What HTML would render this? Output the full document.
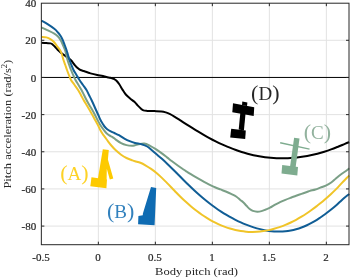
<!DOCTYPE html>
<html><head><meta charset="utf-8"><style>
html,body{margin:0;padding:0;background:#fff;}
body{width:350px;height:279px;overflow:hidden;font-family:"Liberation Serif", serif;}
svg{display:block;}
</style></head><body>
<svg xmlns="http://www.w3.org/2000/svg" width="350" height="279" viewBox="0 0 350 279">
<rect width="350" height="279" fill="#fff"/>
<g stroke="#e2e2e2" stroke-width="1"><line x1="98.35" y1="3.2" x2="98.35" y2="244.7" /><line x1="155.35" y1="3.2" x2="155.35" y2="244.7" /><line x1="212.35" y1="3.2" x2="212.35" y2="244.7" /><line x1="269.35" y1="3.2" x2="269.35" y2="244.7" /><line x1="326.35" y1="3.2" x2="326.35" y2="244.7" /><line x1="41.35" y1="40.29" x2="349.0" y2="40.29" /><line x1="41.35" y1="114.61" x2="349.0" y2="114.61" /><line x1="41.35" y1="151.77" x2="349.0" y2="151.77" /><line x1="41.35" y1="188.93" x2="349.0" y2="188.93" /><line x1="41.35" y1="226.09" x2="349.0" y2="226.09" /></g>
<line x1="41.35" y1="77.45" x2="349.0" y2="77.45" stroke="#000" stroke-width="1"/>
<g fill="none" stroke-width="2" stroke-linejoin="round" stroke-linecap="butt">
<path d="M41.40,42.80 C42.23,42.85 44.85,43.00 46.40,43.10 C47.95,43.20 49.63,43.13 50.70,43.40 C51.77,43.67 52.08,44.13 52.80,44.70 C53.52,45.27 54.20,45.95 55.00,46.80 C55.80,47.65 56.53,48.75 57.60,49.80 C58.67,50.85 60.25,52.18 61.40,53.10 C62.55,54.02 63.48,54.57 64.50,55.30 C65.52,56.03 66.42,56.67 67.50,57.50 C68.58,58.33 69.75,59.00 71.00,60.30 C72.25,61.60 73.78,63.92 75.00,65.30 C76.22,66.68 77.38,67.82 78.30,68.60 C79.22,69.38 79.60,69.60 80.50,70.00 C81.40,70.40 82.78,70.70 83.70,71.00 C84.62,71.30 85.05,71.47 86.00,71.80 C86.95,72.13 88.48,72.70 89.40,73.00 C90.32,73.30 90.20,73.28 91.50,73.60 C92.80,73.92 95.30,74.48 97.20,74.90 C99.10,75.32 100.98,75.67 102.90,76.10 C104.82,76.53 107.18,77.13 108.70,77.50 C110.22,77.87 111.05,78.02 112.00,78.30 C112.95,78.58 113.65,78.80 114.40,79.20 C115.15,79.60 115.68,79.85 116.50,80.70 C117.32,81.55 118.30,82.82 119.30,84.30 C120.30,85.78 121.42,87.90 122.50,89.60 C123.58,91.30 124.53,93.02 125.80,94.50 C127.07,95.98 128.67,97.28 130.10,98.50 C131.53,99.72 133.15,100.65 134.40,101.80 C135.65,102.95 136.53,104.28 137.60,105.40 C138.67,106.52 139.82,107.67 140.80,108.50 C141.78,109.33 142.43,110.00 143.50,110.40 C144.57,110.80 145.40,110.78 147.20,110.90 C149.00,111.02 151.92,111.02 154.30,111.10 C156.68,111.18 159.58,111.18 161.50,111.40 C163.42,111.62 164.37,111.94 165.80,112.40 C167.23,112.86 168.67,113.47 170.10,114.17 C171.53,114.88 172.68,115.59 174.40,116.63 C176.12,117.67 178.38,119.13 180.40,120.42 C182.42,121.71 184.53,123.12 186.50,124.38 C188.47,125.64 190.30,126.78 192.20,127.96 C194.10,129.14 195.98,130.31 197.90,131.47 C199.82,132.63 201.78,133.81 203.70,134.91 C205.62,136.01 207.40,137.01 209.40,138.09 C211.40,139.17 213.68,140.35 215.70,141.36 C217.72,142.37 219.58,143.26 221.50,144.14 C223.42,145.02 225.30,145.85 227.20,146.65 C229.10,147.45 230.98,148.19 232.90,148.92 C234.82,149.64 236.78,150.35 238.70,151.00 C240.62,151.65 242.43,152.23 244.40,152.80 C246.37,153.37 248.50,153.95 250.50,154.44 C252.50,154.93 254.47,155.37 256.40,155.76 C258.33,156.15 260.18,156.47 262.10,156.77 C264.02,157.07 265.98,157.33 267.90,157.54 C269.82,157.75 271.70,157.91 273.60,158.04 C275.50,158.16 277.40,158.25 279.30,158.29 C281.20,158.33 283.10,158.34 285.00,158.30 C286.90,158.26 288.72,158.19 290.70,158.06 C292.68,157.93 294.73,157.77 296.90,157.52 C299.07,157.28 301.42,156.96 303.70,156.59 C305.98,156.22 308.32,155.79 310.60,155.31 C312.88,154.83 315.12,154.30 317.40,153.70 C319.68,153.10 322.02,152.43 324.30,151.72 C326.58,151.01 328.82,150.26 331.10,149.43 C333.38,148.60 335.70,147.66 338.00,146.74 C340.30,145.82 343.03,144.66 344.90,143.90 C346.77,143.14 348.48,142.48 349.20,142.20" stroke="#000"/>
<path d="M41.40,27.40 C42.37,27.85 45.05,29.07 47.20,30.10 C49.35,31.13 52.50,32.53 54.30,33.60 C56.10,34.67 56.97,35.43 58.00,36.50 C59.03,37.57 59.75,38.75 60.50,40.00 C61.25,41.25 61.75,42.33 62.50,44.00 C63.25,45.67 64.37,48.17 65.00,50.00 C65.63,51.83 65.88,53.33 66.30,55.00 C66.72,56.67 67.02,58.33 67.50,60.00 C67.98,61.67 68.62,63.33 69.20,65.00 C69.78,66.67 70.33,68.33 71.00,70.00 C71.67,71.67 72.45,73.33 73.20,75.00 C73.95,76.67 74.62,78.33 75.50,80.00 C76.38,81.67 77.50,83.33 78.50,85.00 C79.50,86.67 80.58,88.33 81.50,90.00 C82.42,91.67 83.17,93.33 84.00,95.00 C84.83,96.67 85.62,98.33 86.50,100.00 C87.38,101.67 88.33,103.33 89.30,105.00 C90.27,106.67 91.35,108.33 92.30,110.00 C93.25,111.67 94.13,113.33 95.00,115.00 C95.87,116.67 96.62,118.33 97.50,120.00 C98.38,121.67 99.25,123.33 100.30,125.00 C101.35,126.67 102.77,128.62 103.80,130.00 C104.83,131.38 105.58,132.40 106.50,133.30 C107.42,134.20 108.23,134.73 109.30,135.40 C110.37,136.07 111.82,136.60 112.90,137.30 C113.98,138.00 114.43,138.63 115.80,139.60 C117.17,140.57 119.32,142.18 121.10,143.10 C122.88,144.02 124.70,144.65 126.50,145.10 C128.30,145.55 130.48,145.77 131.90,145.80 C133.32,145.83 133.88,145.55 135.00,145.30 C136.12,145.05 137.05,144.58 138.60,144.30 C140.15,144.02 142.38,143.34 144.30,143.60 C146.22,143.86 148.18,144.94 150.10,145.87 C152.02,146.80 153.90,147.96 155.80,149.17 C157.70,150.38 159.58,151.72 161.50,153.13 C163.42,154.54 165.60,156.30 167.30,157.62 C169.00,158.94 169.90,159.70 171.70,161.06 C173.50,162.42 176.13,164.37 178.10,165.78 C180.07,167.19 182.02,168.50 183.50,169.50 C184.98,170.50 185.85,171.04 187.00,171.78 C188.15,172.52 188.93,173.03 190.40,173.93 C191.87,174.83 194.02,176.13 195.80,177.18 C197.58,178.23 199.32,179.23 201.10,180.23 C202.88,181.23 204.70,182.24 206.50,183.18 C208.30,184.12 210.48,185.21 211.90,185.89 C213.32,186.57 213.58,186.69 215.00,187.28 C216.42,187.87 218.60,188.72 220.40,189.43 C222.20,190.14 224.02,190.79 225.80,191.54 C227.58,192.28 229.32,193.04 231.10,193.90 C232.88,194.76 234.97,195.69 236.50,196.71 C238.03,197.73 239.18,199.09 240.30,200.00 C241.42,200.91 242.17,201.23 243.20,202.20 C244.23,203.17 245.42,204.67 246.50,205.80 C247.58,206.93 248.63,208.15 249.70,209.00 C250.77,209.85 251.65,210.45 252.90,210.90 C254.15,211.35 255.77,211.67 257.20,211.70 C258.63,211.73 260.07,211.47 261.50,211.10 C262.93,210.73 264.38,210.07 265.80,209.50 C267.22,208.93 268.35,208.57 270.00,207.70 C271.65,206.83 274.03,205.22 275.70,204.30 C277.37,203.38 278.38,202.95 280.00,202.20 C281.62,201.45 283.60,200.55 285.40,199.80 C287.20,199.05 289.02,198.37 290.80,197.70 C292.58,197.03 294.32,196.43 296.10,195.80 C297.88,195.17 299.70,194.53 301.50,193.90 C303.30,193.27 305.48,192.50 306.90,192.00 C308.32,191.50 308.58,191.32 310.00,190.90 C311.42,190.48 313.67,190.05 315.40,189.50 C317.13,188.95 318.67,188.25 320.40,187.60 C322.13,186.95 324.00,186.45 325.80,185.60 C327.60,184.75 329.52,183.68 331.20,182.50 C332.88,181.32 334.30,179.83 335.90,178.50 C337.50,177.17 338.97,175.87 340.80,174.50 C342.63,173.13 345.50,171.33 346.90,170.30 C348.30,169.27 348.82,168.63 349.20,168.30" stroke="#7a9f86"/>
<path d="M41.40,20.70 C42.37,21.23 45.05,22.55 47.20,23.90 C49.35,25.25 52.50,27.37 54.30,28.80 C56.10,30.23 56.97,31.33 58.00,32.50 C59.03,33.67 59.75,34.63 60.50,35.80 C61.25,36.97 61.83,38.05 62.50,39.50 C63.17,40.95 63.83,42.75 64.50,44.50 C65.17,46.25 65.92,48.25 66.50,50.00 C67.08,51.75 67.50,53.33 68.00,55.00 C68.50,56.67 68.93,58.33 69.50,60.00 C70.07,61.67 70.73,63.33 71.40,65.00 C72.07,66.67 72.65,68.33 73.50,70.00 C74.35,71.67 75.50,73.33 76.50,75.00 C77.50,76.67 78.42,78.33 79.50,80.00 C80.58,81.67 81.83,83.33 83.00,85.00 C84.17,86.67 85.50,88.33 86.50,90.00 C87.50,91.67 88.17,93.33 89.00,95.00 C89.83,96.67 90.70,98.33 91.50,100.00 C92.30,101.67 93.05,103.33 93.80,105.00 C94.55,106.67 95.25,108.33 96.00,110.00 C96.75,111.67 97.55,113.33 98.30,115.00 C99.05,116.67 99.80,118.58 100.50,120.00 C101.20,121.42 101.83,122.42 102.50,123.50 C103.17,124.58 103.72,125.55 104.50,126.50 C105.28,127.45 106.15,128.38 107.20,129.20 C108.25,130.02 109.62,130.77 110.80,131.40 C111.98,132.03 112.93,132.37 114.30,133.00 C115.67,133.63 117.32,134.27 119.00,135.20 C120.68,136.13 122.62,137.60 124.40,138.60 C126.18,139.60 127.93,140.47 129.70,141.20 C131.47,141.93 133.03,142.48 135.00,143.00 C136.97,143.52 139.47,143.72 141.50,144.30 C143.53,144.88 145.42,145.45 147.20,146.50 C148.98,147.55 150.65,149.30 152.20,150.59 C153.75,151.88 154.88,152.89 156.50,154.27 C158.12,155.65 160.08,157.26 161.90,158.87 C163.72,160.48 165.58,162.23 167.40,163.95 C169.22,165.67 171.02,167.44 172.80,169.20 C174.58,170.96 176.32,172.71 178.10,174.50 C179.88,176.29 181.70,178.13 183.50,179.93 C185.30,181.73 187.08,183.50 188.90,185.27 C190.72,187.04 192.60,188.85 194.40,190.52 C196.20,192.19 198.03,193.82 199.70,195.28 C201.37,196.74 202.73,197.89 204.40,199.26 C206.07,200.62 207.80,202.02 209.70,203.47 C211.60,204.92 213.90,206.62 215.80,207.96 C217.70,209.31 219.32,210.38 221.10,211.54 C222.88,212.70 224.70,213.83 226.50,214.90 C228.30,215.97 230.42,217.15 231.90,217.96 C233.38,218.78 233.92,219.06 235.40,219.79 C236.88,220.52 239.02,221.56 240.80,222.37 C242.58,223.18 244.32,223.92 246.10,224.63 C247.88,225.34 249.70,226.02 251.50,226.64 C253.30,227.26 254.92,227.80 256.90,228.35 C258.88,228.90 261.42,229.53 263.40,229.96 C265.38,230.39 267.02,230.65 268.80,230.90 C270.58,231.15 272.32,231.33 274.10,231.45 C275.88,231.57 277.62,231.64 279.50,231.61 C281.38,231.58 283.52,231.47 285.40,231.29 C287.28,231.11 289.02,230.84 290.80,230.51 C292.58,230.18 294.32,229.78 296.10,229.29 C297.88,228.79 299.70,228.21 301.50,227.54 C303.30,226.87 305.23,226.04 306.90,225.27 C308.57,224.50 309.83,223.85 311.50,222.94 C313.17,222.03 315.48,220.65 316.90,219.79 C318.32,218.93 318.65,218.70 320.00,217.78 C321.35,216.86 323.20,215.60 325.00,214.27 C326.80,212.94 328.97,211.27 330.80,209.80 C332.63,208.33 334.47,206.80 336.00,205.46 C337.53,204.12 338.83,202.84 340.00,201.77 C341.17,200.70 341.47,200.35 343.00,199.05 C344.53,197.75 348.17,194.84 349.20,194.00" stroke="#105d95"/>
<path d="M41.40,36.80 C42.23,36.90 44.85,36.98 46.40,37.40 C47.95,37.82 49.45,38.53 50.70,39.30 C51.95,40.07 52.83,40.83 53.90,42.00 C54.97,43.17 56.08,44.97 57.10,46.30 C58.12,47.63 59.22,48.72 60.00,50.00 C60.78,51.28 61.22,52.33 61.80,54.00 C62.38,55.67 62.92,58.17 63.50,60.00 C64.08,61.83 64.72,63.33 65.30,65.00 C65.88,66.67 66.40,68.33 67.00,70.00 C67.60,71.67 68.23,73.33 68.90,75.00 C69.57,76.67 70.05,78.33 71.00,80.00 C71.95,81.67 73.40,83.33 74.58,85.00 C75.76,86.67 77.05,88.33 78.10,90.00 C79.15,91.67 79.98,93.33 80.90,95.00 C81.82,96.67 82.65,98.33 83.60,100.00 C84.55,101.67 85.60,103.33 86.60,105.00 C87.60,106.67 88.63,108.33 89.60,110.00 C90.57,111.67 91.48,113.33 92.40,115.00 C93.32,116.67 94.18,118.33 95.10,120.00 C96.02,121.67 97.03,123.33 97.90,125.00 C98.77,126.67 99.51,128.50 100.30,130.00 C101.09,131.50 101.88,132.80 102.66,134.00 C103.44,135.20 104.08,135.93 105.00,137.20 C105.92,138.47 107.12,140.19 108.20,141.62 C109.28,143.05 110.23,144.30 111.50,145.75 C112.77,147.20 114.20,148.81 115.80,150.30 C117.40,151.79 119.32,153.42 121.10,154.70 C122.88,155.98 124.70,157.08 126.50,158.00 C128.30,158.92 130.48,159.65 131.90,160.20 C133.32,160.75 133.58,160.87 135.00,161.30 C136.42,161.73 138.60,162.09 140.40,162.80 C142.20,163.51 144.02,164.53 145.80,165.55 C147.58,166.57 149.32,167.67 151.10,168.92 C152.88,170.17 154.70,171.54 156.50,173.03 C158.30,174.52 160.08,176.15 161.90,177.87 C163.72,179.59 165.58,181.49 167.40,183.33 C169.22,185.17 171.53,187.62 172.80,188.93 C174.07,190.25 173.73,189.92 175.00,191.22 C176.27,192.52 178.60,194.94 180.40,196.71 C182.20,198.48 184.02,200.20 185.80,201.83 C187.58,203.46 189.32,204.98 191.10,206.47 C192.88,207.96 194.70,209.42 196.50,210.79 C198.30,212.16 200.32,213.60 201.90,214.70 C203.48,215.80 204.58,216.51 206.00,217.40 C207.42,218.29 208.77,219.12 210.40,220.04 C212.03,220.96 214.02,222.03 215.80,222.92 C217.58,223.80 219.57,224.69 221.10,225.35 C222.63,226.01 223.52,226.36 225.00,226.90 C226.48,227.44 228.27,228.06 230.00,228.57 C231.73,229.08 233.60,229.58 235.40,229.99 C237.20,230.40 239.02,230.74 240.80,231.01 C242.58,231.28 244.32,231.48 246.10,231.63 C247.88,231.78 249.70,231.86 251.50,231.88 C253.30,231.90 254.92,231.88 256.90,231.75 C258.88,231.62 261.42,231.36 263.40,231.09 C265.38,230.82 267.02,230.50 268.80,230.12 C270.58,229.74 272.32,229.32 274.10,228.82 C275.88,228.32 277.62,227.79 279.50,227.14 C281.38,226.49 283.52,225.68 285.40,224.90 C287.28,224.12 289.02,223.33 290.80,222.48 C292.58,221.62 294.32,220.74 296.10,219.77 C297.88,218.80 299.70,217.76 301.50,216.67 C303.30,215.58 305.23,214.33 306.90,213.23 C308.57,212.13 309.83,211.25 311.50,210.05 C313.17,208.85 315.48,207.09 316.90,206.01 C318.32,204.92 318.77,204.55 320.00,203.54 C321.23,202.53 322.50,201.51 324.30,199.95 C326.10,198.38 328.83,195.96 330.80,194.15 C332.77,192.34 334.32,190.89 336.10,189.09 C337.88,187.29 339.70,185.22 341.50,183.34 C343.30,181.46 345.62,179.11 346.90,177.80 C348.18,176.49 348.82,175.88 349.20,175.50" stroke="#f0c428"/>
</g>

<!-- A yellow -->
<g fill="#fdca00">
 <polygon points="102.8,149.2 108.8,150.0 107.9,159.5 113.3,178.6 109.8,179.5 106.8,168.8 106.6,180.0 97.8,179.2" />
 <polygon points="91.5,177.3 107.0,179.6 106.4,188.2 90.3,186.2" />
</g>
<!-- B blue -->
<polygon fill="#0e6bb2" points="151,187.1 156.2,187.9 154.6,225.2 138.1,224.2 138.4,216 142.8,215.3 142.9,213.5" />
<!-- C green -->
<g fill="#7eac8f">
 <polygon points="294.1,137.8 299.5,138.6 295.6,167.5 290.0,167.0" />
 <polygon points="282.2,165.0 298.0,167.0 297.3,175.6 281.5,173.6" />
 <polygon points="280.3,142.1 309.7,148.4 309.4,149.8 280.0,143.5" />
</g>
<!-- D black -->
<g fill="#000">
 <polygon points="242.3,101.6 247.4,102.4 247.0,106.0 242.0,105.2" />
 <polygon points="233.0,103.2 254.2,107.2 253.7,116.0 232.3,112.2" />
 <polygon points="240.4,112 245.6,113 243.9,130.4 238.7,129.6" />
 <polygon points="231.2,128.8 245.8,130.6 245.2,138.9 230.2,137.5" />
</g>

<g font-family="Liberation Serif" font-size="19" fill-opacity="0.85" style="filter:blur(0px)"><text x="60.2" y="180.3" fill="#fdca00"><tspan font-size="22">(</tspan>A<tspan font-size="22">)</tspan></text><text x="107.0" y="217.8" fill="#0e6bb2"><tspan font-size="22">(</tspan>B<tspan font-size="22">)</tspan></text><text x="303.7" y="139.2" fill="#7fa58d"><tspan font-size="22">(</tspan>C<tspan font-size="22">)</tspan></text><text x="251.1" y="99.8" fill="#000"><tspan font-size="22">(</tspan>D<tspan font-size="22">)</tspan></text></g>
<g stroke="#262626" stroke-width="1"><line x1="98.35" y1="244.7" x2="98.35" y2="241.70" /><line x1="98.35" y1="3.2" x2="98.35" y2="6.20" /><line x1="155.35" y1="244.7" x2="155.35" y2="241.70" /><line x1="155.35" y1="3.2" x2="155.35" y2="6.20" /><line x1="212.35" y1="244.7" x2="212.35" y2="241.70" /><line x1="212.35" y1="3.2" x2="212.35" y2="6.20" /><line x1="269.35" y1="244.7" x2="269.35" y2="241.70" /><line x1="269.35" y1="3.2" x2="269.35" y2="6.20" /><line x1="326.35" y1="244.7" x2="326.35" y2="241.70" /><line x1="326.35" y1="3.2" x2="326.35" y2="6.20" /><line x1="41.35" y1="40.29" x2="44.35" y2="40.29" /><line x1="349.0" y1="40.29" x2="346.0" y2="40.29" /><line x1="41.35" y1="77.45" x2="44.35" y2="77.45" /><line x1="349.0" y1="77.45" x2="346.0" y2="77.45" /><line x1="41.35" y1="114.61" x2="44.35" y2="114.61" /><line x1="349.0" y1="114.61" x2="346.0" y2="114.61" /><line x1="41.35" y1="151.77" x2="44.35" y2="151.77" /><line x1="349.0" y1="151.77" x2="346.0" y2="151.77" /><line x1="41.35" y1="188.93" x2="44.35" y2="188.93" /><line x1="349.0" y1="188.93" x2="346.0" y2="188.93" /><line x1="41.35" y1="226.09" x2="44.35" y2="226.09" /><line x1="349.0" y1="226.09" x2="346.0" y2="226.09" /></g>
<rect x="41.35" y="3.2" width="307.65" height="241.50" fill="none" stroke="#262626" stroke-width="1"/>
<g font-family="Liberation Serif" font-size="11" fill="#262626" style="filter:blur(0px)"><g stroke="#262626" stroke-width="0.2"><text x="40.95" y="260.5" text-anchor="middle">-0.5</text><text x="97.95" y="260.5" text-anchor="middle">0</text><text x="154.95" y="260.5" text-anchor="middle">0.5</text><text x="211.95" y="260.5" text-anchor="middle">1</text><text x="268.95" y="260.5" text-anchor="middle">1.5</text><text x="325.95" y="260.5" text-anchor="middle">2</text><text x="36.2" y="7.23" text-anchor="end">40</text><text x="36.2" y="44.39" text-anchor="end">20</text><text x="36.2" y="81.55" text-anchor="end">0</text><text x="36.2" y="118.71" text-anchor="end">-20</text><text x="36.2" y="155.87" text-anchor="end">-40</text><text x="36.2" y="193.03" text-anchor="end">-60</text><text x="36.2" y="230.19" text-anchor="end">-80</text></g>
<text x="155.0" y="275.4" textLength="83" lengthAdjust="spacingAndGlyphs">Body pitch (rad)</text>
<text transform="translate(10.8,188.6) rotate(-90)" textLength="128.8" lengthAdjust="spacingAndGlyphs">Pitch acceleration (rad/s<tspan font-size="7.5" dy="-4">2</tspan><tspan dy="4">)</tspan></text>
</g>
</svg>
</body></html>
